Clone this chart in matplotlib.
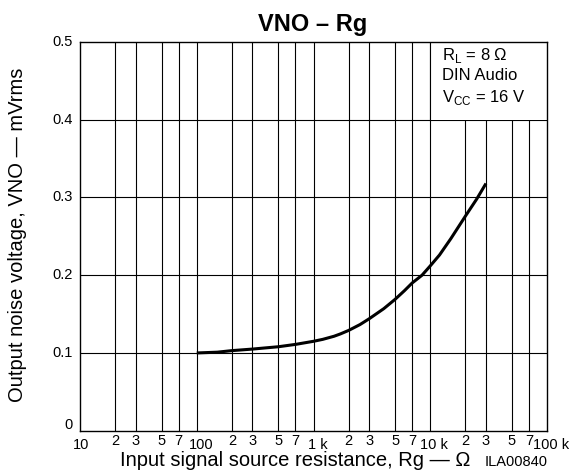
import matplotlib
matplotlib.use("Agg")
import matplotlib.pyplot as plt
import matplotlib.transforms as mtransforms
from matplotlib.patches import Rectangle

plt.rcParams['font.family'] = ['Liberation Sans', 'DejaVu Sans']

# curve
rg = [100, 150, 200, 300, 500, 700, 1000, 1200, 1500, 1700, 2000, 2500, 3000, 4000, 5000,
      6000, 7000, 8500, 10000, 12000, 15000, 20000, 25000, 30000]
vno = [0.100, 0.101, 0.103, 0.105, 0.108, 0.111, 0.115, 0.1175, 0.1215, 0.1245, 0.129, 0.1365, 0.144, 0.157, 0.169,
       0.180, 0.190, 0.200, 0.212, 0.226, 0.247, 0.276, 0.298, 0.318]

decades = [10, 100, 1000, 10000, 100000]
decade_labels = ["10", "100", "1 k", "10 k", "100 k"]
minor_mult = [2, 3, 5, 7]
yticks = [0, 0.1, 0.2, 0.3, 0.4, 0.5]
ytick_labels = ["0", "0.1", "0.2", "0.3", "0.4", "0.5"]

fig = plt.figure(figsize=(5.71, 4.71), dpi=100)
ax = fig.add_axes([80/571, 40.3/471, 467/571, 388.7/471])
ax.set_xscale("log")
ax.set_xlim(10, 100000)
ax.set_ylim(0, 0.5)

# grid
minor_pos = [d * m for d in decades[:-1] for m in minor_mult]
for x in minor_pos + decades[1:-1]:
    ax.axvline(x, color="black", lw=0.8, zorder=1)
for y in yticks[1:-1]:
    ax.axhline(y, color="black", lw=0.8, zorder=1)

# white box for the conditions
ax.add_patch(Rectangle((10000, 0.4), 90000, 0.1, facecolor="white", edgecolor="none", zorder=2))
ax.axvline(10000, ymin=0.8, ymax=1, color="black", lw=0.8, zorder=3)
ax.text(0.775, 0.99, "R$_\\mathregular{L}$ = 8 Ω\nDIN Audio\nV$_\\mathregular{CC}$ = 16 V",
        transform=ax.transAxes, ha="left", va="top", fontsize=12, linespacing=1.3, zorder=4)

ax.plot(rg, vno, color="black", lw=2.2, zorder=5, solid_capstyle="butt")

# ticks
ax.set_xticks([])
ax.set_yticks(yticks)
ax.set_yticklabels([])
ax.tick_params(axis="y", length=0)
ax.set_xticks(minor_pos, minor=True)
ax.tick_params(axis="x", which="minor", direction="in", top=True, bottom=False, length=3, labelbottom=False)
for sp in ax.spines.values():
    sp.set_linewidth(1.0)

trans = ax.get_xaxis_transform()
off_minor = mtransforms.offset_copy(trans, fig=fig, x=0, y=-10, units="dots")
for x in minor_pos:
    m = int(round(x / 10 ** (len(str(int(x))) - 1)))
    ax.text(x, 0, str(m), transform=off_minor, ha="center", va="center", fontsize=10.5)
for x, lab in zip(decades, decade_labels):
    dx = 1 if x == 10 else 4
    off_dec = mtransforms.offset_copy(trans, fig=fig, x=dx, y=-14, units="dots")
    ax.text(x, 0, lab, transform=off_dec, ha="center", va="center", fontsize=10.5)

ytrans = ax.get_yaxis_transform()
for y, lab in zip(yticks, ytick_labels):
    dy = 6 if y == 0 else 0
    off_y = mtransforms.offset_copy(ytrans, fig=fig, x=-7, y=dy, units="dots")
    ax.text(0, y, lab, transform=off_y, ha="right", va="center", fontsize=10.5)

fig.text(313/571, 1 - 25/471, "VNO – Rg", ha="center", va="center", fontsize=17, fontweight="bold")
fig.text(295/571, 1 - 461/471, "Input signal source resistance, Rg — Ω", ha="center", va="center", fontsize=14.5)
fig.text(485/571, 1 - 462/471, "ILA00840", ha="left", va="center", fontsize=10.5)
fig.text(18/571, 1 - 235/471, "Output noise voltage, VNO — mVrms", ha="center", va="center",
         rotation=90, fontsize=14.5)

fig.savefig("out.png", dpi=100)
